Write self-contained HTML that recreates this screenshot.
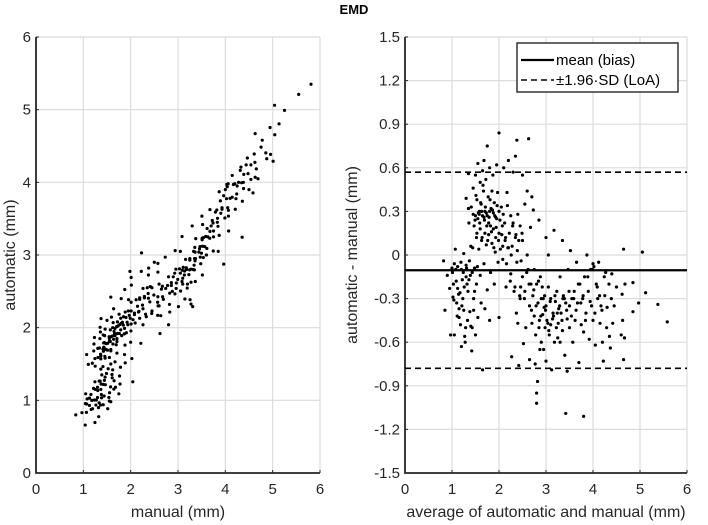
<!DOCTYPE html>
<html><head><meta charset="utf-8"><style>
html,body{margin:0;padding:0;background:#fff;}
svg{display:block;font-family:"Liberation Sans",Arial,sans-serif;}
</style></head><body>
<svg id="fig" width="708" height="525" viewBox="0 0 708 525">
<text x="354" y="14" text-anchor="middle" font-weight="bold" font-size="13" fill="#000">EMD</text>
</svg>
<script>
// Bland-Altman data: averages and differences
const avgVals = [0.82,0.85,0.9,0.95,0.97,1.0,1.02,1.03,1.05,1.05,1.07,1.08,1.1,1.12,1.12,1.15,1.15,1.17,1.18,1.2,1.2,1.22,1.23,1.25,1.25,1.27,1.28,1.3,1.3,1.3,1.32,1.33,
1.35,1.35,1.36,1.37,1.38,1.4,1.4,1.42,1.43,1.45,1.45,1.46,1.47,1.48,1.5,1.5,1.5,1.52,1.52,1.53,1.55,1.55,1.55,1.57,1.58,1.6,1.6,1.6,1.62,1.62,1.63,1.65,1.65,1.65,1.67,1.68,1.68,1.7,1.7,1.7,1.72,1.73,1.75,1.75,1.75,1.77,1.78,1.8,1.8,1.8,1.82,1.82,1.85,1.85,1.87,1.88,1.9,1.9,1.92,1.93,1.95,1.95,1.97,1.98,2.0,2.0,2.0,2.0,
2.03,2.05,2.07,2.08,2.1,2.12,2.13,2.15,2.17,2.18,2.2,2.2,2.22,2.25,2.25,2.27,2.28,2.3,2.3,2.32,2.35,2.35,2.37,2.38,2.38,2.4,2.4,2.42,2.42,2.45,2.45,2.47,2.5,2.5,2.5,2.52,2.55,2.55,2.57,2.6,2.6,2.62,2.63,2.65,2.65,2.67,2.68,2.7,2.7,
2.72,2.73,2.75,2.75,2.77,2.78,2.8,2.8,2.8,2.82,2.83,2.85,2.85,2.87,2.88,2.9,2.9,2.92,2.93,2.95,2.97,2.98,3.0,3.0,3.0,3.02,3.05,3.05,3.07,3.1,3.1,3.12,3.15,3.17,3.18,3.2,3.22,3.23,3.25,3.27,3.3,3.3,3.32,3.35,3.35,3.37,3.4,3.42,3.42,3.45,3.45,3.47,3.5,3.5,
3.52,3.55,3.57,3.6,3.62,3.65,3.67,3.7,3.72,3.75,3.78,3.8,3.8,3.82,3.85,3.87,3.9,3.92,3.95,3.97,4.0,4.0,4.02,4.05,4.07,4.1,4.12,4.15,4.17,4.2,4.22,4.25,4.27,4.3,4.35,4.37,4.4,4.42,4.45,4.5,
4.6,4.62,4.63,4.65,4.65,4.67,4.68,4.85,4.85,4.97,5.05,5.12,5.38,5.58,
1.01,1.04,1.09,1.11,1.14,1.19,1.21,1.24,1.26,1.29,1.31,1.34,1.36,1.39,1.41,1.44,1.46,1.49,1.51,1.54,1.56,1.59,1.61,1.64,1.66,1.69,1.71,1.74,1.76,1.79,1.81,1.84,1.86,1.89,1.91,1.94,1.96,1.99,2.02,2.06,2.09,2.14,2.19,2.24,2.29,2.34,2.39,2.44,2.49,2.54,2.59,2.64,2.69,
2.74,2.79,2.84,2.89,2.94,2.99,3.04,3.09,3.14,3.19,3.24,3.29,3.34,3.39,3.44,3.49,3.54,3.59,3.64,3.69,3.74,3.79,3.84,3.89,3.94,3.99,4.04,4.09,4.14,4.19,4.24,4.29,4.34,4.39,
1.58,1.63,1.68,1.73,1.78,1.83,1.88,1.93,1.53,1.48,1.43,2.08,2.16,2.26,2.36,2.46,2.86,2.96,3.06,3.16,3.26,3.36];
const diffVals = [-0.04,-0.38,-0.14,-0.23,-0.55,-0.09,-0.29,-0.2,-0.55,-0.06,0.04,-0.1,-0.33,-0.23,-0.08,-0.37,-0.43,-0.26,-0.48,-0.1,-0.63,-0.17,-0.3,0.01,-0.38,-0.56,-0.6,0.39,-0.15,-0.07,-0.2,-0.45,
0.56,0.32,-0.17,-0.04,-0.39,-0.49,0.06,-0.66,-0.5,0.46,0.28,-0.3,0.2,-0.09,0.55,0.27,-0.55,0.12,-0.2,0.38,0.63,0.25,-0.43,0.04,0.3,0.5,0.18,-0.14,0.35,-0.33,0.1,0.58,0.27,-0.79,0.44,-0.06,0.65,0.3,0.15,-0.37,0.52,0.07,0.75,0.27,-0.24,0.4,0.14,0.6,0.3,-0.45,0.2,-0.12,0.44,0.08,0.55,0.29,-0.2,0.36,0.02,0.12,0.62,0.25,0.43,-0.05,0.84,0.3,0.15,-0.43,
0.04,0.33,0.2,-0.03,0.6,0.22,0.1,-0.22,0.43,0.34,0.65,0.05,0.15,0.27,-0.13,-0.7,0.06,0.57,0.22,-0.25,0.68,0.12,-0.4,0.79,-0.05,0.28,-0.47,0.1,-0.76,0.2,-0.3,-0.04,0.55,0.1,-0.15,-0.61,-0.25,0.35,-0.5,0.44,0.0,-0.1,0.8,-0.35,-0.72,0.19,-0.2,0.4,-0.47,
-0.28,0.31,-0.1,-0.42,-0.75,-0.55,-0.95,-1.02,-0.2,-0.87,-0.33,0.24,-0.5,-0.65,-0.15,-0.3,-0.6,-0.22,-0.41,-0.65,-0.28,-0.5,-0.73,0.12,-0.35,-0.45,0.0,-0.22,-0.55,-0.3,-0.48,-0.79,-0.4,0.17,-0.6,-0.32,-0.5,-0.25,-0.57,-0.37,-0.6,-0.15,-0.4,0.1,-0.52,-0.28,-0.69,-1.09,-0.33,-0.8,-0.44,-0.1,-0.35,-0.5,
0.03,-0.3,-0.6,-0.25,-0.45,-0.05,-0.33,-0.74,-0.2,-0.48,-0.3,-1.11,-0.53,-0.15,-0.4,0.0,-0.25,-0.58,-0.1,-0.35,-0.06,-0.45,-0.08,-0.62,-0.2,-0.3,-0.05,-0.47,-0.35,-0.6,-0.73,-0.28,-0.12,-0.36,-0.56,-0.64,-0.13,-0.47,-0.35,-0.22,
-0.55,-0.27,-0.45,0.04,-0.72,-0.57,-0.2,-0.19,-0.39,-0.33,0.02,-0.26,-0.34,-0.46,
-0.12,-0.31,-0.18,-0.42,-0.27,-0.05,-0.35,-0.12,-0.22,-0.5,-0.09,-0.25,0.22,-0.14,0.33,0.05,-0.38,0.24,0.41,-0.08,0.29,0.22,0.36,0.12,0.48,0.24,0.33,0.2,0.1,0.26,0.38,0.16,0.31,0.05,0.27,0.19,0.34,0.1,0.24,0.14,0.28,0.12,0.05,-0.18,0.2,-0.22,0.03,-0.28,0.15,-0.3,-0.12,-0.2,-0.38,
-0.24,-0.35,-0.18,-0.42,-0.3,-0.38,-0.47,-0.32,-0.44,-0.28,-0.4,-0.35,-0.45,-0.3,-0.38,-0.25,-0.42,-0.3,-0.38,-0.2,-0.33,-0.28,-0.45,-0.15,-0.32,-0.1,-0.4,-0.22,-0.28,-0.38,-0.15,-0.5,-0.2,-0.3,
0.28,0.3,0.26,0.29,0.22,0.32,0.18,0.26,0.15,-0.25,-0.12,0.06,-0.06,0.0,0.14,-0.22,-0.45,-0.36,-0.52,-0.42,-0.47,-0.3];
const leftXTicks = [0,1,2,3,4,5,6];
const leftYTicks = [0,1,2,3,4,5,6];
const rightXTicks = [0,1,2,3,4,5,6];
const rightYTicks = [-1.5,-1.2,-0.9,-0.6,-0.3,0,0.3,0.6,0.9,1.2,1.5];
const rightYLabels = ["-1.5","-1.2","-0.9","-0.6","-0.3","0","0.3","0.6","0.9","1.2","1.5"];
const biasVal = [-0.105];
const loaVals = [0.57, -0.78];

const NS = "http://www.w3.org/2000/svg";
const svg = document.getElementById('fig');
function mk(tag, attrs, parent){ const e=document.createElementNS(NS,tag); for(const k in attrs) e.setAttribute(k,attrs[k]); (parent||svg).appendChild(e); return e; }

function panel(name, x0, x1, y0, y1, xmin, xmax, ymin, ymax, xt, yt, ytl, xlabel, ylabel, ylabelX){
  const sx = v => x0 + (v - xmin)/(xmax - xmin)*(x1 - x0);
  const sy = v => y1 - (v - ymin)/(ymax - ymin)*(y1 - y0);
  const g = mk('g', {});
  
  
  xt.forEach(v=>{
    const l = mk('line',{x1:sx(v),x2:sx(v),y1:y0,y2:y1,stroke:'#dcdcdc','stroke-width':1.2},g);
    
    
    const t = mk('text',{x:sx(v),y:y1+21,'text-anchor':'middle','font-size':15,fill:'#262626'},g);
    t.textContent = String(v);
    
    
    mk('line',{x1:sx(v),x2:sx(v),y1:y1,y2:y1-3,stroke:'#262626','stroke-width':1},g);
  });
  yt.forEach((v,i)=>{
    const l = mk('line',{x1:x0,x2:x1,y1:sy(v),y2:sy(v),stroke:'#dcdcdc','stroke-width':1.2},g);
    
    
    const t = mk('text',{x:x0-5,y:sy(v)+5,'text-anchor':'end','font-size':15,fill:'#262626'},g);
    t.textContent = ytl ? ytl[i] : String(v);
    
    
    mk('line',{x1:x0,x2:x0+3,y1:sy(v),y2:sy(v),stroke:'#262626','stroke-width':1},g);
  });
  const ax = mk('path',{d:`M${x0},${y0} V${y1} H${x1}`,fill:'none',stroke:'#262626','stroke-width':1.8},g);
  
  
  const xl = mk('text',{x:(x0+x1)/2,y:y1+44,'text-anchor':'middle','font-size':16,fill:'#262626'},g);
  xl.textContent = xlabel;
  
  
  const yl = mk('text',{x:0,y:0,'text-anchor':'middle','font-size':16,fill:'#262626',transform:`translate(${ylabelX},${(y0+y1)/2}) rotate(-90)`},g);
  yl.textContent = ylabel;
  
  
  return {sx, sy, g};
}

// Left: manual vs automatic
const L = panel('scatter-panel', 36, 320, 37, 473, 0, 6, 0, 6, leftXTicks, leftYTicks, null, 'manual (mm)', 'automatic (mm)', 15);
avgVals.forEach((a,i)=>{
  const d = diffVals[i];
  const man = a - d/2, auto = a + d/2;
  const c = mk('circle',{cx:L.sx(man),cy:L.sy(auto),r:1.6,fill:'#000'},L.g);
  
  
});

// Right: Bland-Altman
const R = panel('bland-altman-panel', 405, 687, 37, 473, 0, 6, -1.5, 1.5, rightXTicks, rightYTicks, rightYLabels, 'average of automatic and manual (mm)', 'automatic - manual (mm)', 357);
avgVals.forEach((a,i)=>{
  const c = mk('circle',{cx:R.sx(a),cy:R.sy(diffVals[i]),r:1.6,fill:'#000'},R.g);
  
  
});
const bl = mk('line',{x1:R.sx(0),x2:R.sx(6),y1:R.sy(biasVal[0]),y2:R.sy(biasVal[0]),stroke:'#000','stroke-width':2.2},R.g);


loaVals.forEach(v=>{
  const l = mk('line',{x1:R.sx(0),x2:R.sx(6),y1:R.sy(v),y2:R.sy(v),stroke:'#000','stroke-width':1.6,'stroke-dasharray':'6,4'},R.g);
  
  
});

// Legend
const lg = mk('g',{});


mk('rect',{x:517,y:43,width:161,height:49,fill:'#fff',stroke:'#262626','stroke-width':1.4},lg);
const e1 = mk('line',{x1:521,x2:554,y1:60,y2:60,stroke:'#000','stroke-width':2.2},lg);


const t1 = mk('text',{x:556,y:65,'font-size':15,fill:'#000'},lg);
t1.textContent='mean (bias)';


const e2 = mk('line',{x1:521,x2:554,y1:80,y2:80,stroke:'#000','stroke-width':1.6,'stroke-dasharray':'6,4'},lg);


const t2 = mk('text',{x:556,y:85,'font-size':15,fill:'#000'},lg);
t2.textContent='±1.96·SD (LoA)';


</script>
</body></html>
